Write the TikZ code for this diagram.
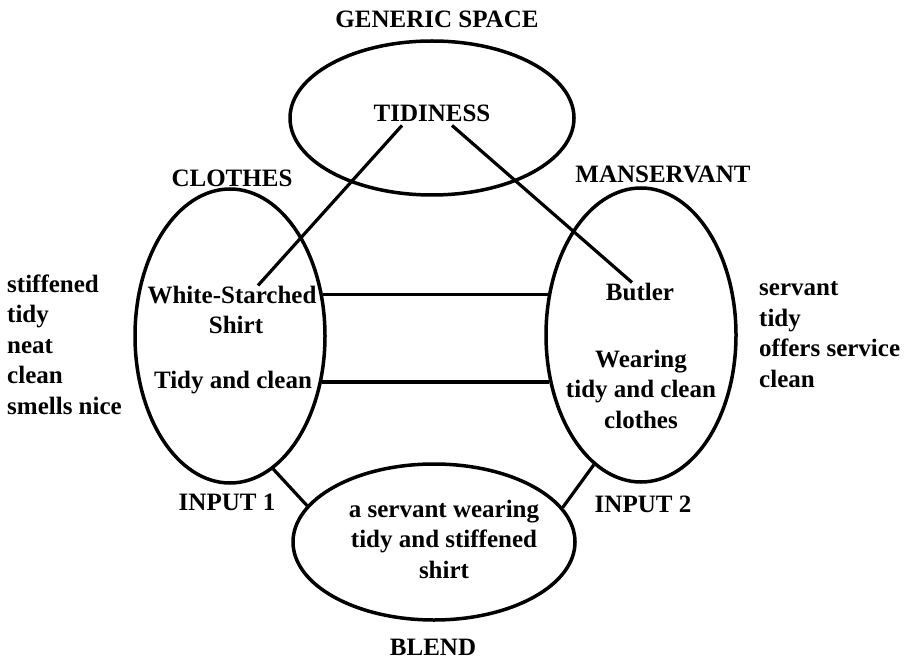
\documentclass[tikz,border=0pt]{standalone}
\usepackage{fontspec}
\setmainfont{Liberation Serif}
\usetikzlibrary{positioning,shapes.geometric}

\begin{document}
\begin{tikzpicture}[x=1pt,y=-1pt,
  every node/.style={font=\fontsize{25}{30.5}\selectfont\bfseries,inner sep=0pt},
  domain/.style args={#1/#2}{ellipse,draw,line width=3.5pt,minimum width=#1,minimum height=#2},
  link/.style={line width=3.2pt}]
  \useasboundingbox (0,0) rectangle (909,660);

  % mental spaces
  \node[domain=284pt/154pt] (gen) at (432,118) {};
  \node[domain=190pt/294pt] (clothes) at (230,336) {};
  \node[domain=190pt/294pt] (man) at (641,335) {};
  \node[domain=282pt/156pt] (blend) at (434,542) {};

  % space names
  \node[anchor=base] (genlab) at (437,28) {GENERIC SPACE};
  \node[anchor=base] (clolab) at (232,187) {CLOTHES};
  \node[anchor=base] (manlab) at (663,183) {MANSERVANT};
  \node[anchor=base] (in1) at (227,510) {INPUT 1};
  \node[anchor=base] (in2) at (643,512) {INPUT 2};
  \node[anchor=base] (blendlab) at (433,655) {BLEND};

  % elements
  \node[anchor=base] (tid) at (432,122) {TIDINESS};
  \node[anchor=base] (white) at (232,303) {White-Starched};
  \node[anchor=base] (shirt) at (236,333) {Shirt};
  \node[anchor=base] (tidyc) at (233,388) {Tidy and clean};
  \node[anchor=base] (butler) at (640,300) {Butler};
  \node[anchor=base,align=center] (wear) at (641,428) {Wearing\\tidy and clean\\clothes};
  \node[anchor=base,align=center] (blendtxt) at (444,578) {a servant wearing\\tidy and stiffened\\shirt};

  % properties
  \node[anchor=base west,align=left] (leftlist) at (7,414) {stiffened\\tidy\\neat\\clean\\smells nice};
  \node[anchor=base west,align=left] (rightlist) at (759,387) {servant\\tidy\\offers service\\clean};

  % mappings
  \draw[link] ([xshift=-30pt,yshift=-3pt]tid.south) -- ([xshift=26pt]white.north);
  \draw[link] ([xshift=20pt,yshift=-3pt]tid.south) -- ([xshift=-8pt]butler.north);
  \draw[link] (white.east -| clothes.24) -- (white.east -| man.156);
  \draw[link] (tidyc.east -| clothes.-27) -- (tidyc.east -| man.207);
  \draw[link] (clothes.-72) -- (blend.164);
  \draw[link] (man.-110) -- (blend.15);
\end{tikzpicture}
\end{document}
